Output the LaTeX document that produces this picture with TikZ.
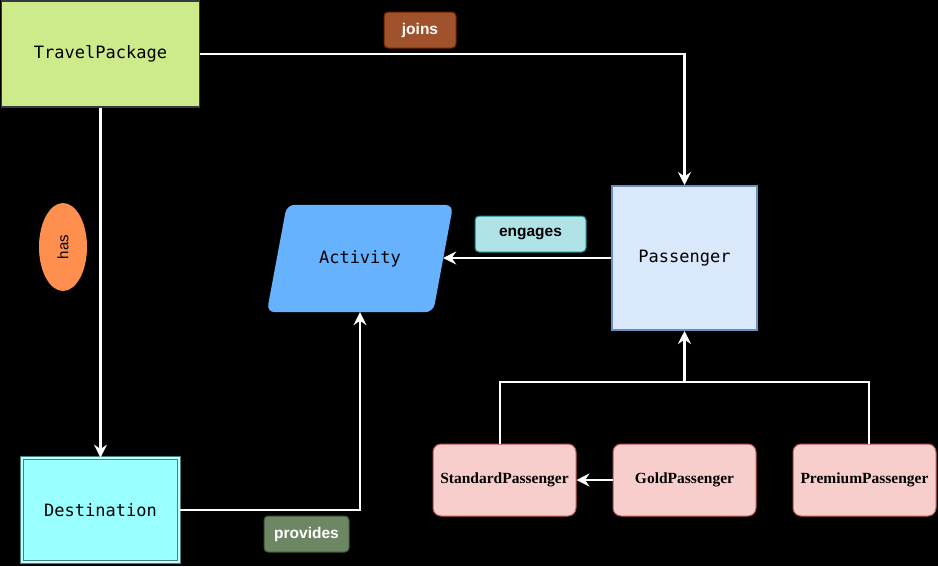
\documentclass[tikz,border=0pt]{standalone}
\usepackage{fontspec}
\setmainfont{Liberation Sans}
\newfontfamily\monofnt{DejaVu Sans Mono}
\newfontfamily\subclassfnt{Liberation Serif}
\usetikzlibrary{arrows.meta,shapes.geometric,calc}
\definecolor{tpfill}{HTML}{CDEB8B}
\definecolor{tpdraw}{HTML}{36393D}
\definecolor{pfill}{HTML}{DAE8FC}
\definecolor{pdraw}{HTML}{6C8EBF}
\definecolor{afill}{HTML}{66B2FF}
\definecolor{dfill}{HTML}{99FFFF}
\definecolor{ddraw}{HTML}{4A7F7F}
\definecolor{sfill}{HTML}{F8CECC}
\definecolor{sdraw}{HTML}{B85450}
\definecolor{joinsfill}{HTML}{A0522D}
\definecolor{joinsdraw}{HTML}{6D1F00}
\definecolor{engfill}{HTML}{B0E3E6}
\definecolor{engdraw}{HTML}{0E8088}
\definecolor{provfill}{HTML}{6D8764}
\definecolor{provdraw}{HTML}{3A5431}
\definecolor{hasfill}{HTML}{FF8F4F}
\begin{document}
\begin{tikzpicture}[x=1pt,y=-1pt,
  cls/.style={draw, inner sep=0pt, font=\monofnt\fontsize{17}{20}\selectfont, text=black},
  lbl/.style={rounded corners=4pt, line width=1pt, inner sep=0pt, font=\bfseries\fontsize{15.5}{18}\selectfont},
  sub/.style={draw=sdraw, fill=sfill, rounded corners=8pt, line width=1pt, inner sep=0pt,
    minimum width=143pt, minimum height=72pt, text=black,
    font=\subclassfnt\bfseries\fontsize{15.5}{18}\selectfont},
  conn/.style={draw=white, line width=2.2pt},
  arr/.style={conn, -{Stealth[length=13pt,width=13pt,inset=4.5pt]}}]
\fill[black] (0,0) rectangle (938,566);
\useasboundingbox (0,0) rectangle (938,566);

% classes
\node[cls, fill=tpfill, draw=tpdraw, line width=1.5pt, minimum width=198pt, minimum height=106pt] (tp) at (100.5,54) {TravelPackage};
\node[cls, fill=pfill, draw=pdraw, line width=2pt, minimum width=145pt, minimum height=144pt] (pass) at (684.5,258) {Passenger};
\node[cls, fill=dfill, draw=ddraw, line width=0.8pt, double=dfill!60!white, double distance=1.5pt, minimum width=157pt, minimum height=104pt] (dest) at (100.5,510) {Destination};
\node[cls, draw=none, minimum width=166pt, minimum height=107pt] (act) at (360,258.5) {};
\fill[afill, rounded corners=8pt] ([xshift=10pt]act.north west) -- ([xshift=10pt]act.north east) -- ([xshift=-10pt]act.south east) -- ([xshift=-10pt]act.south west) -- cycle;
\node[cls, draw=none] (acttext) at (act.center) {Activity};

% subclasses
\node[sub] (std) at (504.5,480) {StandardPassenger};
\node[sub] (gold) at (684.5,480) {GoldPassenger};
\node[sub] (prem) at (864.5,480) {PremiumPassenger};

% labels
\node[lbl, fill=joinsfill, draw=joinsdraw, text=white, minimum width=72pt, minimum height=36pt] (joins) at (420,30) {joins};
\node[lbl, fill=engfill, draw=engdraw, text=black, minimum width=111pt, minimum height=36pt] (eng) at (530.5,234) {engages};
\node[lbl, fill=provfill, draw=provdraw, text=white, minimum width=85pt, minimum height=36pt] (prov) at (306.5,534) {provides};
\node[ellipse, fill=hasfill, inner sep=0pt, minimum width=48pt, minimum height=88pt] (has) at (63,247) {};
\node[rotate=90, text=black, font=\fontsize{15}{18}\selectfont] (hastext) at (has.center) {has};

% connectors
\draw[arr] (tp.east) -| (pass.north);
\draw[arr] (tp.south) -- (dest.north);
\draw[arr] (dest.east) -| (act.south);
\draw[arr] (pass.west) -- (pass.west -| act.east);
\draw[arr] (gold.west) -- (std.east);
\coordinate (stdtop) at ([xshift=-4.5pt]std.north);
\coordinate (premtop) at ([xshift=4.5pt]prem.north);
\coordinate (jn) at (684.5,382);
\draw[conn] (stdtop) |- (premtop |- jn) -- (premtop);
\draw[arr] (jn) -- (pass.south);
\end{tikzpicture}
\end{document}
